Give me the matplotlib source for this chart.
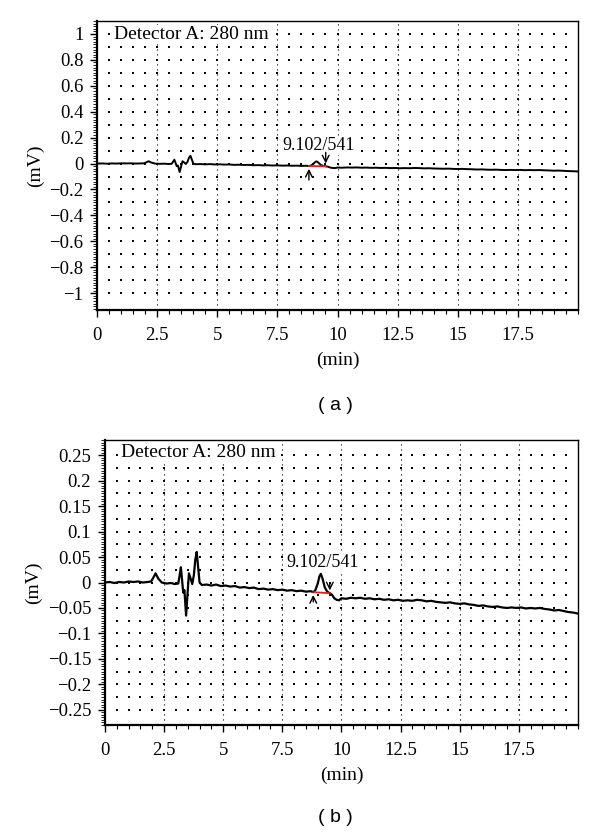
import numpy as np
import matplotlib.pyplot as plt
from matplotlib.ticker import MultipleLocator

# chromatogram trace (min, mV)
time_min = [0.0, 0.2, 0.4, 0.6, 0.8, 1.0, 1.2, 1.4, 1.6, 1.8,
            1.95, 2.05, 2.14, 2.25, 2.4, 2.6, 2.8, 2.95, 3.1, 3.16,
            3.21, 3.26, 3.31, 3.36, 3.43, 3.48, 3.55, 3.62, 3.69, 3.76,
            3.82, 3.88, 3.94, 4.0, 4.1, 4.3, 4.5, 4.7, 4.9, 5.1,
            5.3, 5.5, 5.7, 5.9, 6.1, 6.3, 6.5, 6.7, 6.9, 7.1,
            7.3, 7.5, 7.7, 7.9, 8.1, 8.3, 8.5, 8.7, 8.81, 8.9,
            9.0, 9.07, 9.13, 9.2, 9.3, 9.4, 9.51, 9.6, 9.7, 9.8,
            9.9, 10.0, 10.2, 10.4, 10.6, 10.8, 11.0, 11.2, 11.4, 11.6,
            11.8, 12.0, 12.2, 12.4, 12.6, 12.8, 13.0, 13.2, 13.4, 13.6,
            13.8, 14.0, 14.2, 14.4, 14.6, 14.8, 15.0, 15.2, 15.4, 15.6,
            15.8, 16.0, 16.2, 16.4, 16.6, 16.8, 17.0, 17.2, 17.4, 17.6,
            17.8, 18.0, 18.2, 18.4, 18.6, 18.8, 19.0, 19.2, 19.4, 19.6,
            19.8, 20.0]
signal_mv = [0.000, 0.001, -0.001, 0.001, 0.000, 0.002, 0.001, 0.002, 0.000, 0.001,
             0.002, 0.010, 0.018, 0.008, 0.000, -0.002, -0.001, -0.003, -0.002, 0.015,
             0.030, 0.005, -0.020, -0.015, -0.065, -0.030, 0.018, 0.008, -0.003, 0.015,
             0.045, 0.060, 0.030, 0.000, -0.005, -0.004, -0.006, -0.004, -0.007, -0.006,
             -0.008, -0.007, -0.010, -0.009, -0.011, -0.010, -0.013, -0.012, -0.014, -0.013,
             -0.015, -0.014, -0.016, -0.015, -0.017, -0.016, -0.018, -0.017, -0.019, -0.015,
             -0.002, 0.012, 0.017, 0.008, -0.010, -0.018, -0.021, -0.024, -0.031, -0.034,
             -0.035, -0.031, -0.032, -0.030, -0.031, -0.030, -0.032, -0.031, -0.033, -0.032,
             -0.034, -0.033, -0.035, -0.034, -0.036, -0.035, -0.036, -0.034, -0.035, -0.037,
             -0.036, -0.038, -0.039, -0.040, -0.039, -0.041, -0.042, -0.041, -0.043, -0.044,
             -0.046, -0.045, -0.047, -0.048, -0.047, -0.049, -0.050, -0.049, -0.050, -0.049,
             -0.051, -0.050, -0.051, -0.050, -0.052, -0.053, -0.055, -0.054, -0.056, -0.058,
             -0.059, -0.061]

# integrated peak: start / end of baseline
peak_start = (8.81, -0.019)
peak_end = (9.51, -0.021)
peak_label = "9.102/541"
detector_label = "Detector A: 280 nm"

SERIF = "Liberation Serif"
white_box = dict(facecolor="white", edgecolor="none", pad=0.6)

fig = plt.figure(figsize=(6, 8.34), dpi=100)

panels = [
    dict(rect=[0.162, 0.6283, 0.801, 0.3465], ylim=(-1.13, 1.1), major=0.2,
         minor=0.02, dots=0.1, label_y=0.14, tag="( a )", tag_y=405 / 834,
         lw=1.4, arrow=12),
    dict(rect=[0.175, 0.1307, 0.788, 0.3417], ylim=(-0.28, 0.28), major=0.05,
         minor=0.005, dots=0.025, label_y=0.04, tag="( b )", tag_y=818 / 834,
         lw=1.6, arrow=9),
]

for p in panels:
    ax = fig.add_axes(p["rect"])
    ax.set_xlim(0, 20)
    ax.set_ylim(*p["ylim"])

    # dot lattice + dotted verticals at major x ticks
    gx = np.arange(0.5, 20, 0.5)
    gy = np.arange(-10, 11) * p["dots"]
    gy = gy[(gy > p["ylim"][0]) & (gy < p["ylim"][1])]
    GX, GY = np.meshgrid(gx, gy)
    ax.plot(GX.ravel(), GY.ravel(), ls="", marker="s", ms=1.5, mew=0,
            color="black", zorder=1)
    for xv in np.arange(2.5, 20, 2.5):
        ax.axvline(xv, color="black", lw=0.8, ls=(0, (1, 3.5)), zorder=1)

    ax.plot(time_min, signal_mv, color="black", lw=p["lw"], zorder=3)

    # integration baseline + markers
    ax.plot([peak_start[0], peak_end[0]], [peak_start[1], peak_end[1]],
            color="#e02020", lw=1.3, zorder=4)
    ax.annotate("", xy=peak_start, xytext=(0, -p["arrow"]), textcoords="offset points",
                arrowprops=dict(arrowstyle="->", lw=1.0, color="black",
                                mutation_scale=12), zorder=5)
    ax.annotate("", xy=peak_end, xytext=(0, p["arrow"]), textcoords="offset points",
                arrowprops=dict(arrowstyle="->", lw=1.0, color="black",
                                mutation_scale=12), zorder=5)
    ax.text(9.2, p["label_y"], peak_label, ha="center", va="center",
            fontsize=13, family=SERIF, bbox=white_box, zorder=2)

    ax.text(0.034, 0.955, detector_label, transform=ax.transAxes, ha="left",
            va="center", fontsize=14, family=SERIF, bbox=white_box, zorder=2)

    ax.xaxis.set_major_locator(MultipleLocator(2.5))
    ax.xaxis.set_minor_locator(MultipleLocator(0.5))
    ax.yaxis.set_major_locator(MultipleLocator(p["major"]))
    ax.yaxis.set_minor_locator(MultipleLocator(p["minor"]))
    xt = np.arange(0, 20, 2.5)
    ax.set_xticks(xt)
    ax.set_xticklabels([f"{v:g}" for v in xt])
    yt = ax.get_yticks()
    yt = yt[(yt >= p["ylim"][0]) & (yt <= p["ylim"][1])]
    ax.set_yticks(yt)
    ax.set_yticklabels([f"{v:g}".replace("-", "\u2212") if abs(v) > 1e-9 else "0"
                        for v in yt])

    ax.tick_params(axis="x", which="major", direction="out", length=5, width=1,
                   labelsize=13.5, pad=7)
    ax.tick_params(axis="y", which="major", direction="out", length=5, width=1,
                   labelsize=13.5, pad=5)
    ax.tick_params(which="minor", direction="out", length=3, width=0.8)
    ax.tick_params(axis="y", which="minor", length=3, width=0.6)
    for lab in ax.get_xticklabels() + ax.get_yticklabels():
        lab.set_family(SERIF)
    for sp in ax.spines.values():
        sp.set_linewidth(1.0)
    ax.spines["left"].set_linewidth(1.6)
    ax.spines["bottom"].set_linewidth(1.6)

    ax.set_xlabel("(min)", fontsize=14, family=SERIF, labelpad=6)
    ax.set_ylabel("(mV)", fontsize=14, family=SERIF, labelpad=4)

    fig.text(335 / 600, 1 - p["tag_y"], p["tag"], ha="center", va="center",
             fontsize=14, family="Liberation Sans")

fig.savefig("out.png", dpi=100)
